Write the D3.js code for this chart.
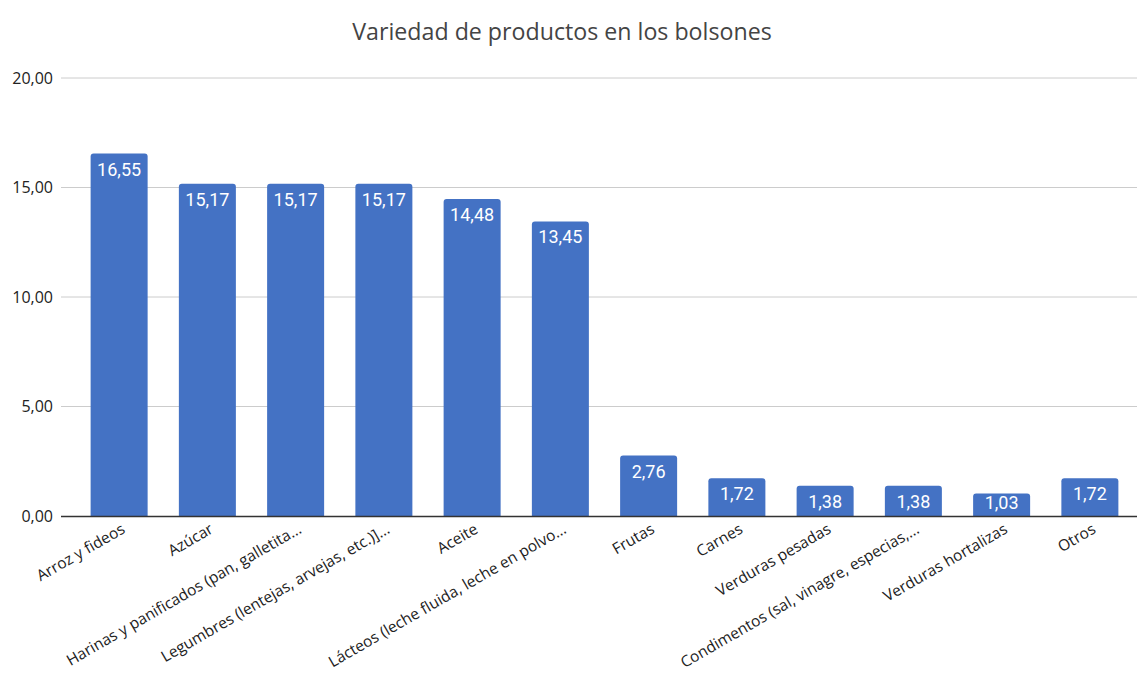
<!DOCTYPE html>
<html><head><meta charset="utf-8">
<script src="https://cdn.jsdelivr.net/npm/d3@7"></script>
<style>body{margin:0;background:#fff}</style>
</head><body>
<svg id="c" width="1137" height="681"></svg>
<script>
const title = "Variedad de productos en los bolsones";
const categories = ["Arroz y fideos","Azúcar","Harinas y panificados (pan, galletita...","Legumbres (lentejas, arvejas, etc.)]...","Aceite","Lácteos (leche fluida, leche en polvo...","Frutas","Carnes","Verduras pesadas","Condimentos (sal, vinagre, especias,...","Verduras hortalizas","Otros"];
const values = [16.55,15.17,15.17,15.17,14.48,13.45,2.76,1.72,1.38,1.38,1.03,1.72];
const yTicks = [0,5,10,15,20];

const svg = d3.select("#c");
const fmt = v => d3.format(".2f")(v).replace(".", ",");
const y = d3.scaleLinear().domain([0,20]).range([516,78]);
const x = d3.scaleBand().domain(categories).range([75,1134]).paddingInner(0.354).paddingOuter(0.177);

svg.append("text").attr("x",562).attr("y",40).attr("text-anchor","middle")
  .attr("font-family","Open Sans").attr("font-size",23.2).attr("fill","#444").text(title);

const yAxis = d3.axisLeft(y).tickValues(yTicks).tickSize(0).tickFormat(fmt);
const ga = svg.append("g").attr("transform","translate(61,0)").call(yAxis);
ga.select(".domain").remove();
ga.attr("font-size",16).attr("font-family","Open Sans");
ga.selectAll("text").attr("x",-8).attr("fill","#222");

svg.append("g").selectAll("line").data(yTicks.filter(d=>d>0)).join("line")
  .attr("x1",61).attr("x2",1137).attr("y1",d=>y(d)).attr("y2",d=>y(d))
  .attr("stroke","#cccccc").attr("stroke-width",1);

const r = 3;
svg.append("g").selectAll("path").data(values).join("path")
  .attr("fill","#4472c4")
  .attr("d",(d,i)=>{
    const x0=x(categories[i]), w=x.bandwidth(), y0=y(d), y1=y(0);
    return `M${x0},${y1}V${y0+r}Q${x0},${y0} ${x0+r},${y0}H${x0+w-r}Q${x0+w},${y0} ${x0+w},${y0+r}V${y1}Z`;
  });

svg.append("g").selectAll("text").data(values).join("text")
  .attr("x",(d,i)=>x(categories[i])+x.bandwidth()/2).attr("y",d=>Math.min(y(d)+22, y(0)-7))
  .attr("text-anchor","middle").style("font-family","Roboto").style("font-size","18px")
  .attr("fill","#fff").text(fmt);

svg.append("line").attr("x1",61).attr("x2",1137).attr("y1",516.5).attr("y2",516.5)
  .attr("stroke","#333").attr("stroke-width",1.5);

const xAxis = d3.axisBottom(x).tickSize(0);
const gx = svg.append("g").attr("transform","translate(0,516)").call(xAxis);
gx.select(".domain").remove();
gx.selectAll("text").style("font-family","Open Sans").style("font-size","15.5px").attr("fill","#222")
  .attr("text-anchor","end").attr("x",-2).attr("y",12).attr("dy","0.35em")
  .attr("transform","rotate(-30)");
</script>
</body></html>
